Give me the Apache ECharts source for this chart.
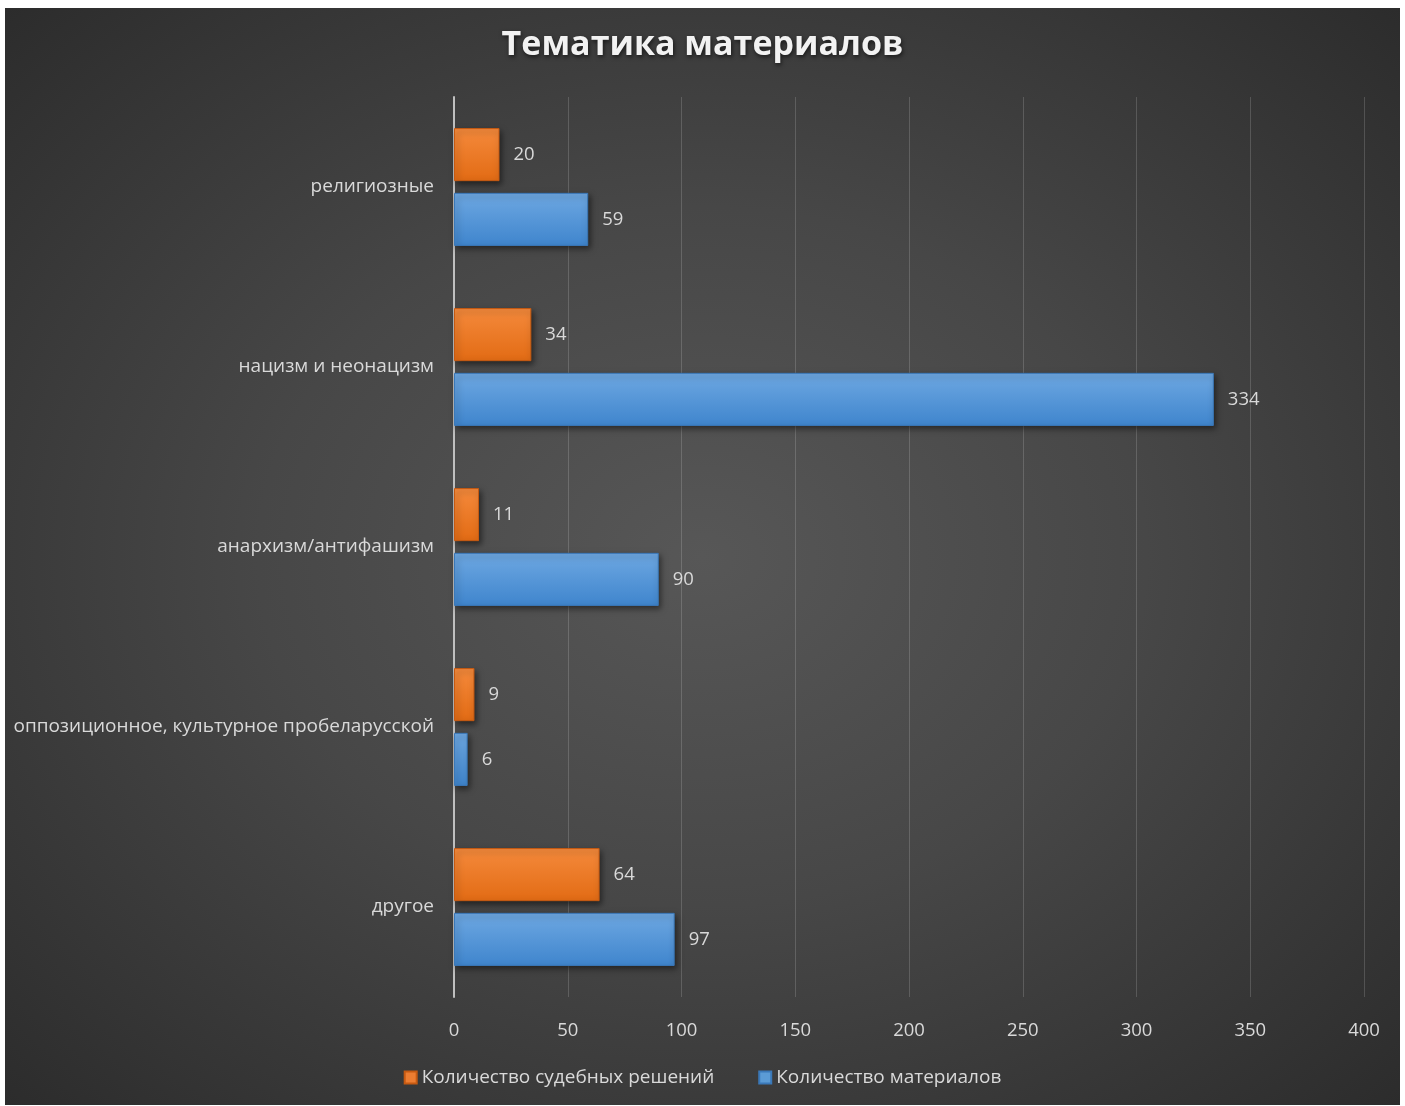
<!DOCTYPE html>
<html><head><meta charset="utf-8">
<script src="https://cdn.jsdelivr.net/npm/echarts@6/dist/echarts.min.js"></script>
<style>
html,body{margin:0;padding:0;background:#fff;}
#c{position:absolute;left:5px;top:8px;width:1395px;height:1097px;
background:radial-gradient(ellipse at 50% 50%, #575757 0%, #474747 45%, #2c2c2c 100%);}
</style></head><body>
<div id="c"></div>
<script>
const categories = ['религиозные','нацизм и неонацизм','анархизм/антифашизм','оппозиционное, культурное пробеларусской','другое'];
const courtDecisions = [20, 34, 11, 9, 64];
const materials = [59, 334, 90, 6, 97];
const seriesNames = ['Количество судебных решений','Количество материалов'];
const title = 'Тематика материалов';

const chart = echarts.init(document.getElementById('c'));
const font = '"Open Sans", "Noto Sans", sans-serif';
function grad(top, bottom){
  return new echarts.graphic.LinearGradient(0,0,0,1,[{offset:0,color:top},{offset:1,color:bottom}]);
}
const labelStyle = {show:true, position:'right', distance:14, color:'#d9d9d9', fontSize:18.5, fontFamily:font};
chart.setOption({
  animation:false,
  textStyle:{fontFamily:font},
  title:{text:title,left:'center',top:15,textStyle:{color:'#f2f2f2',fontSize:34,fontWeight:'bold',fontFamily:font,
    textShadowColor:'rgba(0,0,0,0.6)',textShadowBlur:4,textShadowOffsetX:1,textShadowOffsetY:2}},
  legend:{bottom:13,left:'center',itemWidth:12,itemHeight:12,itemGap:44,icon:'rect',
    textStyle:{color:'#d9d9d9',fontSize:19,fontFamily:font},
    data:[{name:seriesNames[0],itemStyle:{color:'#ed7d31'}},{name:seriesNames[1],itemStyle:{color:'#5b9bd5'}}]},
  grid:{left:449,right:36,top:89,bottom:108,containLabel:false},
  xAxis:{type:'value',min:0,max:400,interval:50,
    axisLine:{show:false},axisTick:{show:false},
    axisLabel:{color:'#d9d9d9',fontSize:18.5,margin:24,fontFamily:font},
    splitLine:{lineStyle:{color:'rgba(255,255,255,0.16)',width:1}}},
  yAxis:{type:'category',inverse:true,data:categories,
    axisLine:{lineStyle:{color:'#bfbfbf',width:2}},axisTick:{show:false},
    axisLabel:{color:'#d9d9d9',fontSize:19,margin:20,fontFamily:font}},
  series:[
    {name:seriesNames[0],type:'bar',data:courtDecisions,barWidth:'29.5%',barGap:'22%',barCategoryGap:'34%',
     itemStyle:{color:grad('#f58a3c','#e26b14'),borderColor:'#c65a12',borderWidth:1,
       shadowColor:'rgba(0,0,0,0.5)',shadowBlur:6,shadowOffsetX:2,shadowOffsetY:3},
     label:labelStyle},
    {name:seriesNames[1],type:'bar',data:materials,barWidth:'29.5%',barGap:'22%',
     itemStyle:{color:grad('#6ea8e2','#3f85cd'),borderColor:'#3a78b8',borderWidth:1,
       shadowColor:'rgba(0,0,0,0.5)',shadowBlur:6,shadowOffsetX:2,shadowOffsetY:3},
     label:labelStyle}
  ]
});
</script></body></html>
